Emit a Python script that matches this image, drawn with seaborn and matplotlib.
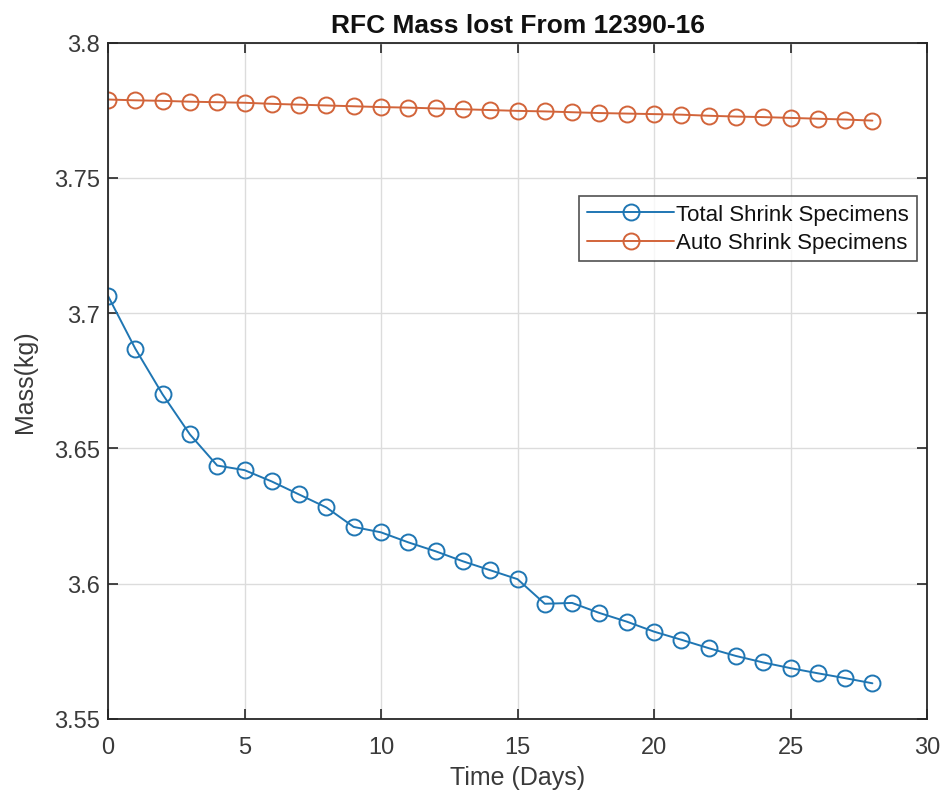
import matplotlib
matplotlib.use("Agg")
import matplotlib.pyplot as plt
import seaborn as sns
import pandas as pd

# Daily mass readings of the RFC specimens from batch 12390-16
days = list(range(29))
total_shrink = [3.7064, 3.6869, 3.6700, 3.6552, 3.6437, 3.6420, 3.6378, 3.6330,
                3.6282, 3.6210, 3.6190, 3.6153, 3.6120, 3.6083, 3.6050, 3.6017,
                3.5926, 3.5929, 3.5892, 3.5860, 3.5823, 3.5793, 3.5762, 3.5733,
                3.5709, 3.5688, 3.5669, 3.5651, 3.5632]
auto_shrink = [3.7790, 3.7787, 3.7785, 3.7782, 3.7780, 3.7778, 3.7774, 3.7771,
               3.7768, 3.7765, 3.7762, 3.7760, 3.7757, 3.7754, 3.7751, 3.7748,
               3.7746, 3.7743, 3.7740, 3.7738, 3.7736, 3.7734, 3.7730, 3.7727,
               3.7725, 3.7722, 3.7719, 3.7716, 3.7712]
series_names = ["Total Shrink Specimens", "Auto Shrink Specimens"]
series_colors = ["#1f76b3", "#d2643a"]

x_ticks = [0, 5, 10, 15, 20, 25, 30]
y_ticks = [3.55, 3.6, 3.65, 3.7, 3.75, 3.8]
y_tick_labels = ["3.55", "3.6", "3.65", "3.7", "3.75", "3.8"]

sns.set_theme(style="white")
plt.rcParams["font.family"] = ["Liberation Sans", "DejaVu Sans"]

fig = plt.figure(figsize=(9.47, 8.03), dpi=100)
ax = fig.add_axes([108 / 947, 1 - 720 / 803, (927 - 108) / 947, (720 - 43.7) / 803])

df = pd.DataFrame({"day": days, series_names[0]: total_shrink, series_names[1]: auto_shrink})
for name, color in zip(series_names, series_colors):
    sns.lineplot(data=df, x="day", y=name, ax=ax, color=color, linewidth=1.4,
                 marker="o", markersize=11.5, markerfacecolor="none",
                 markeredgecolor=color, markeredgewidth=1.4, label=name)

ax.set_xlim(0, 30)
ax.set_ylim(3.55, 3.8)
ax.set_xticks(x_ticks)
ax.set_yticks(y_ticks)
ax.set_yticklabels(y_tick_labels)

dark = "#262626"
text_col = "#3a3a3a"
ax.grid(True, color="#dcdcdc", linewidth=1.0)
ax.set_axisbelow(True)
for sp in ax.spines.values():
    sp.set_visible(True)
    sp.set_color(dark)
    sp.set_linewidth(1.3)
ax.tick_params(axis="both", which="both", direction="in", length=7, width=1.2,
               color=dark, labelcolor=text_col, labelsize=17,
               top=True, right=True, bottom=True, left=True, pad=6)
ax.tick_params(axis="x", pad=12)

ax.set_title("RFC Mass lost From 12390-16", fontsize=19, fontweight="bold",
             color="#111111", pad=8)
ax.set_xlabel("Time (Days)", fontsize=18, color=text_col, labelpad=5)
ax.set_ylabel("Mass(kg)", fontsize=18, color=text_col, labelpad=12)

leg = ax.legend(loc="upper right", bbox_to_anchor=(0.9874, 0.7737), borderaxespad=0,
                fontsize=16, frameon=True, fancybox=False, handlelength=3.9,
                handletextpad=0.1, labelspacing=0.35, borderpad=0.35)
leg.get_frame().set_edgecolor(dark)
leg.get_frame().set_linewidth(1.2)
for t in leg.get_texts():
    t.set_color("#111111")

fig.savefig("out.png", dpi=100, facecolor="white")
